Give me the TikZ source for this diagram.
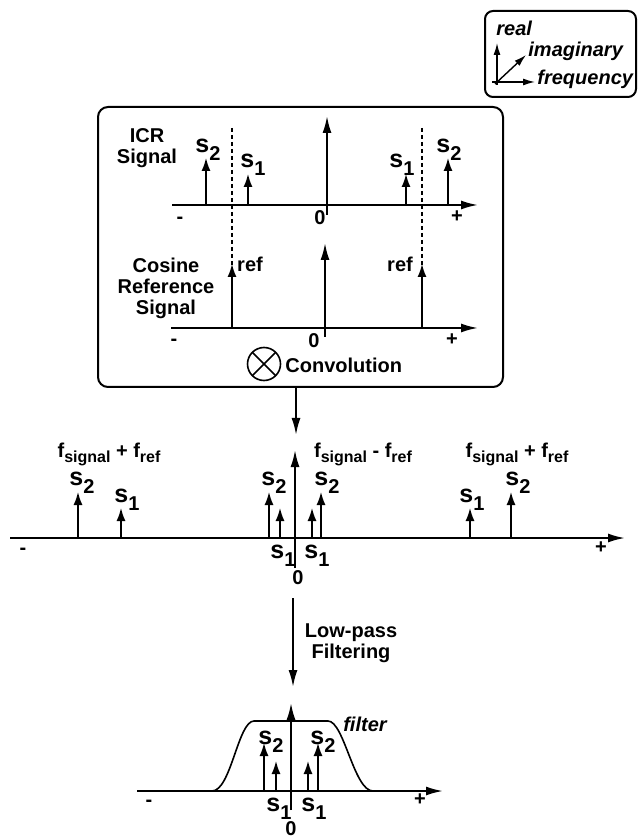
\documentclass[tikz,border=0pt]{standalone}
\usepackage{fontspec}
\setmainfont{Liberation Sans}
\usetikzlibrary{arrows.meta}
\newcommand{\sidx}[1]{{\fontsize{12.5}{12.5}\selectfont s}\raisebox{-4pt}{#1}}
\newcommand{\fidx}[1]{f\raisebox{-2.5pt}{\fontsize{8}{8}\selectfont #1}}

\begin{document}
\begin{tikzpicture}[x=0.5pt, y=-0.5pt,
    every node/.style={font=\fontsize{10}{10.5}\selectfont\bfseries, inner sep=0pt},
    freqaxis/.style={line width=1pt, -{Latex[length=8.5pt, width=4.5pt]}},
    stem/.style={line width=0.75pt, -{Latex[length=6.5pt, width=4.5pt]}},
    smalltip/.style={line width=0.7pt, -{Latex[length=6pt, width=3.5pt]}},
    guide/.style={line width=1pt, dash pattern=on 2pt off 1.5pt},
    frame/.style={line width=1pt, rounded corners=5pt},
    slanted/.style={font=\fontsize{10}{10.5}\selectfont\bfseries\itshape}]
    \useasboundingbox (0,0) rectangle (637,838);

    \draw[frame, rounded corners=4pt] (485,11) rectangle (636,97);
    \draw[smalltip] (497,85) -- (497,43);
    \draw[smalltip] (495,84) -- (526,55);
    \draw[smalltip] (492,82) -- (535,82);
    \node[slanted, anchor=base west] (reallbl) at (496,36) {real};
    \node[slanted, anchor=base west] (imaglbl) at (528,57) {imaginary};
    \node[slanted, anchor=base west] (freqlbl) at (537,85) {frequency};

    \draw[frame] (98,107) rectangle (503,387);
    \node[align=center] (icrlbl) at (147,148) {ICR\\Signal};
    \node[align=center] (coslbl) at (166,288) {Cosine\\Reference\\Signal};
    \draw[freqaxis] (172,205) -- (478,205);
    \draw[freqaxis] (327,215) -- (327,116);
    \draw[freqaxis] (171,328) -- (478,328);
    \draw[freqaxis] (325,337) -- (325,243);

    \foreach \x/\y in {206/158, 248/174, 406/174, 448/158} {
      \draw[stem] (\x,205) -- (\x,\y);
    }
    \foreach \x in {232, 422} {
      \draw[guide] (\x,128) -- (\x,265);
      \draw[stem] (\x,328) -- (\x,264);
    }
    \foreach \x/\y/\n [count=\i] in {208/153/2, 253/168/1, 402/168/1, 449/153/2} {
      \node[anchor=base] (ts\i) at (\x,\y) {\sidx{\n}};
    }
    \node[anchor=base] (refl) at (250,272) {ref};
    \node[anchor=base] (refr) at (400,272) {ref};
    \foreach \x/\y/\t [count=\i] in {180/220/-, 320/218/0, 457/217/+, 174/342/-, 314/341/0, 452/340/+} {
      \node (tick\i) at (\x,\y) {\t};
    }
    \node[draw, circle, minimum size=16.5pt, line width=0.8pt,
      path picture={\draw (path picture bounding box.north west) -- (path picture bounding box.south east)
        (path picture bounding box.south west) -- (path picture bounding box.north east);}] (otimes) at (264,364) {};
    \node[anchor=base west] (convlbl) at (285,373) {Convolution};

    \coordinate (boxfoot) at (296,387);
    \coordinate (midtop) at (296,435);
    \draw[freqaxis] (boxfoot) -- (midtop);
    \draw[freqaxis] (10,538) -- (625,538);
    \draw[freqaxis] (295,568) -- (295,450);
    \foreach \x/\y in {78/492, 121/508, 269/492, 280/508, 312/508, 321/492, 470/508, 511/492} {
      \draw[stem] (\x,538) -- (\x,\y);
    }
    \foreach \x/\y/\n [count=\i] in {82/485/2, 127/502/1, 274/485/2, 327/485/2, 472/502/1, 518/485/2, 283/558/1, 317/558/1} {
      \node[anchor=base] (ms\i) at (\x,\y) {\sidx{\n}};
    }
    \node[anchor=base] (fleft) at (109,457) {\fidx{signal} + \fidx{ref}};
    \node[anchor=base] (fmid) at (363,457) {\fidx{signal} - \fidx{ref}};
    \node[anchor=base] (fright) at (517,457) {\fidx{signal} + \fidx{ref}};
    \foreach \x/\y/\t [count=\i] in {23/551/-, 298/578/0, 601/548/+} {
      \node (mtick\i) at (\x,\y) {\t};
    }

    \coordinate (lptop) at (293,598);
    \coordinate (lpend) at (293,687);
    \draw[freqaxis] (lptop) -- (lpend);
    \node[align=center] (lplbl) at (351,643) {Low-pass\\Filtering};
    \draw[freqaxis] (137,791) -- (443,791);
    \draw[freqaxis] (291,810) -- (291,703);
    \draw[line width=0.8pt] (212,791) .. controls (231,791) and (238,721) .. (254,721) -- (328,721)
      .. controls (344,721) and (354,791) .. (373,791);
    \foreach \x/\y in {264/743, 276/761, 308/761, 318/743} {
      \draw[stem] (\x,791) -- (\x,\y);
    }
    \foreach \x/\y/\n [count=\i] in {271/744/2, 323/744/2, 279/811/1, 314/811/1} {
      \node[anchor=base] (bs\i) at (\x,\y) {\sidx{\n}};
    }
    \node[slanted, anchor=base] (filterlbl) at (365,731) {filter};
    \foreach \x/\y/\t [count=\i] in {149/803/-, 291/829/0, 420/800/+} {
      \node (btick\i) at (\x,\y) {\t};
    }
  \end{tikzpicture}
\end{document}
